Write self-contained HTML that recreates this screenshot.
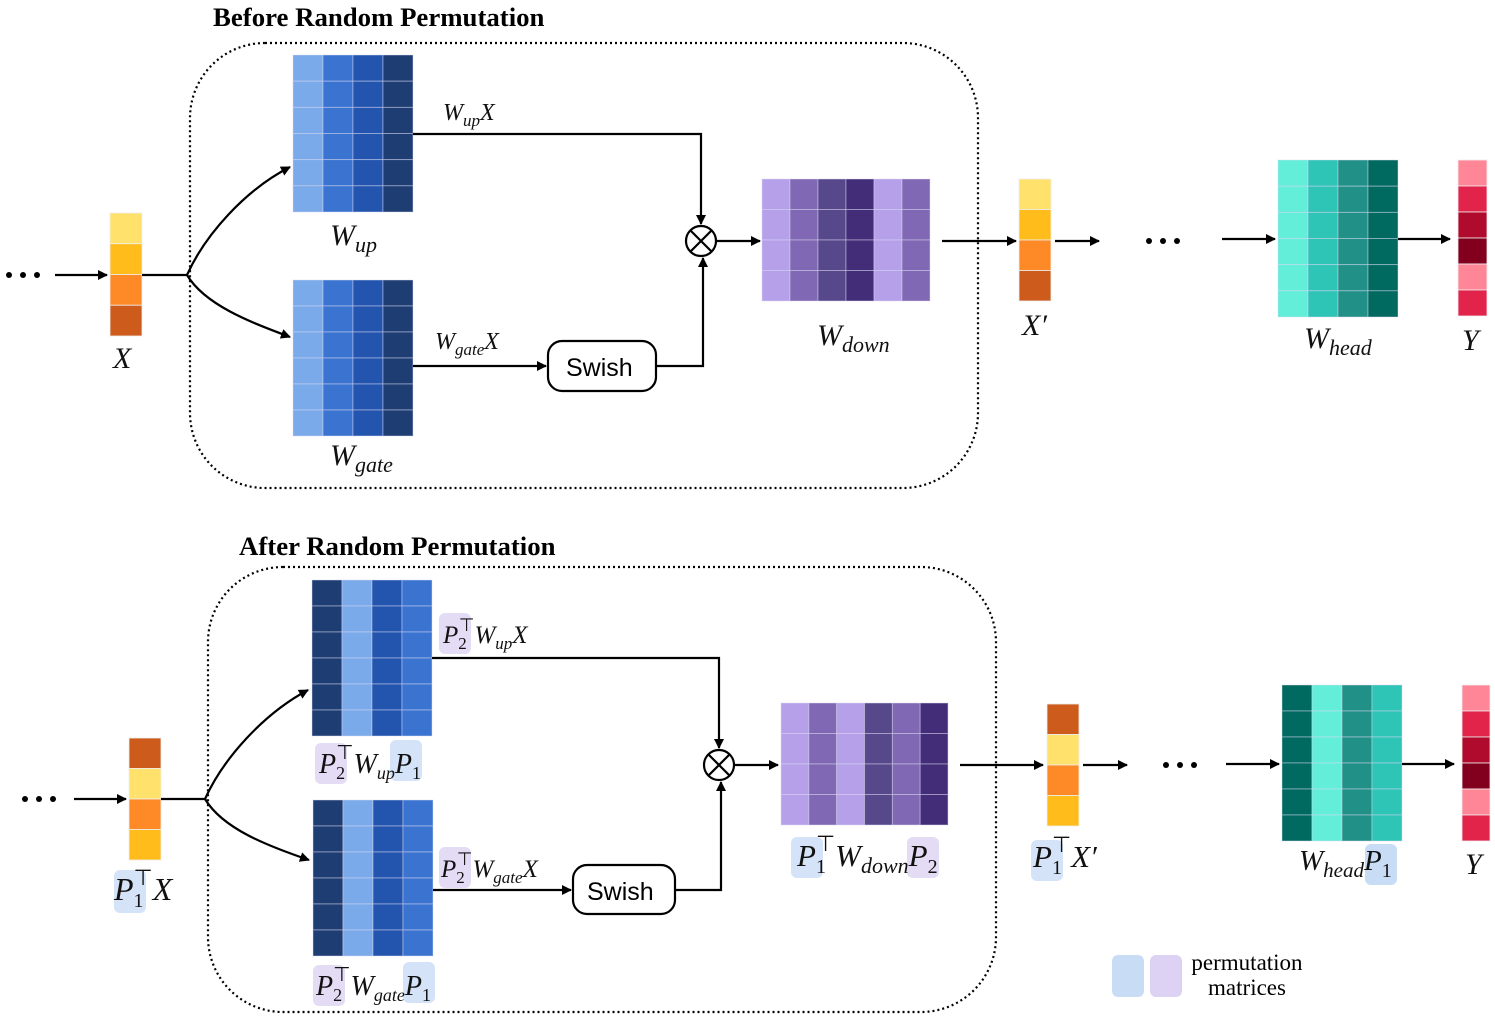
<!DOCTYPE html>
<html><head><meta charset="utf-8"><style>
html,body{margin:0;padding:0;background:#fff}
svg{display:block}
.m{font-family:"Liberation Serif",serif;font-style:italic;fill:#111}
.t{font-family:"Liberation Serif",serif;font-weight:bold;font-size:26.8px;fill:#000}
.s{font-family:"Liberation Sans",sans-serif;font-size:25px;fill:#000}
</style></head><body>
<svg id="g" width="1495" height="1019" viewBox="0 0 1495 1019" xmlns="http://www.w3.org/2000/svg">
<defs><marker id="a" markerWidth="10" markerHeight="10" refX="9" refY="5" orient="auto" markerUnits="userSpaceOnUse"><path d="M0,0 L10,5 L0,10 z" fill="#000"/></marker></defs>
<g id="grids"></g>
<g fill="none" stroke="#000" stroke-width="2.2">
<rect x="190" y="43" width="788" height="445" rx="75" stroke-dasharray="2,3"/>
<rect x="208" y="567" width="788" height="445" rx="75" stroke-dasharray="2,3"/>
<path d="M55,275 H107" marker-end="url(#a)"/>
<path d="M142,275 H187"/>
<path d="M187,275 C205,235 245,190 290,167" marker-end="url(#a)"/>
<path d="M187,275 C205,305 250,322 290,337" marker-end="url(#a)"/>
<path d="M413,134 H701 V224" marker-end="url(#a)"/>
<path d="M413,366 H546" marker-end="url(#a)"/>
<path d="M656,366 H703 V258" marker-end="url(#a)"/>
<circle cx="701" cy="241" r="15"/>
<path d="M690,230 L712,252 M712,230 L690,252"/>
<path d="M716,241 H760" marker-end="url(#a)"/>
<path d="M942,241 H1016" marker-end="url(#a)"/>
<path d="M1055,241 H1099" marker-end="url(#a)"/>
<path d="M1222,239 H1275" marker-end="url(#a)"/>
<path d="M1398,239 H1450" marker-end="url(#a)"/>
<rect x="548" y="341" width="108" height="50" rx="14"/>
<path d="M74,799 H126" marker-end="url(#a)"/>
<path d="M161,799 H205"/>
<path d="M205,799 C223,759 263,714 308,690" marker-end="url(#a)"/>
<path d="M205,799 C223,829 268,846 309,860" marker-end="url(#a)"/>
<path d="M432,658 H719 V748" marker-end="url(#a)"/>
<path d="M433,890 H571" marker-end="url(#a)"/>
<path d="M675,890 H721 V782" marker-end="url(#a)"/>
<circle cx="719" cy="765" r="15"/>
<path d="M708,754 L730,776 M730,754 L708,776"/>
<path d="M734,765 H778" marker-end="url(#a)"/>
<path d="M960,765 H1043" marker-end="url(#a)"/>
<path d="M1083,765 H1127" marker-end="url(#a)"/>
<path d="M1226,764 H1279" marker-end="url(#a)"/>
<path d="M1402,764 H1454" marker-end="url(#a)"/>
<rect x="573" y="865" width="102" height="49" rx="14"/>
</g>
<g fill="#000">
<circle cx="9" cy="275" r="3"/><circle cx="23" cy="275" r="3"/><circle cx="37" cy="275" r="3"/>
<circle cx="1149" cy="241" r="3"/><circle cx="1163" cy="241" r="3"/><circle cx="1177" cy="241" r="3"/>
<circle cx="25" cy="799" r="3"/><circle cx="39" cy="799" r="3"/><circle cx="53" cy="799" r="3"/>
<circle cx="1166" cy="765" r="3"/><circle cx="1180" cy="765" r="3"/><circle cx="1194" cy="765" r="3"/>
</g>
<g>
<rect x="439" y="613" width="32" height="41" rx="6" fill="#e4dcf5"/>
<rect x="315" y="743" width="32" height="41" rx="6" fill="#e4dcf5"/>
<rect x="390" y="740" width="32" height="41" rx="6" fill="#d4e3f7"/>
<rect x="439" y="847" width="32" height="41" rx="6" fill="#e4dcf5"/>
<rect x="313" y="965" width="32" height="41" rx="6" fill="#e4dcf5"/>
<rect x="403" y="962" width="32" height="41" rx="6" fill="#d4e3f7"/>
<rect x="114" y="870" width="32" height="43" rx="6" fill="#d4e3f7"/>
<rect x="791" y="837" width="32" height="41" rx="6" fill="#d4e3f7"/>
<rect x="907" y="837" width="32" height="41" rx="6" fill="#e4dcf5"/>
<rect x="1031" y="840" width="32" height="41" rx="6" fill="#d4e3f7"/>
<rect x="1365" y="844" width="32" height="41" rx="6" fill="#c8dcf6"/>
<rect x="1112" y="955" width="32" height="42" rx="6" fill="#c8dcf6"/>
<rect x="1150" y="955" width="32" height="42" rx="6" fill="#ddd2f4"/>
</g>
<text class="t" x="213" y="26">Before Random Permutation</text>
<text class="t" x="239" y="555">After Random Permutation</text>
<text class="s" x="566" y="376">Swish</text>
<text class="s" x="587" y="900">Swish</text>
<g class="m">
<text x="443" y="120" font-size="24">W<tspan font-size="17" dy="6">up</tspan><tspan dy="-6">X</tspan></text>
<text x="330" y="245" font-size="30">W<tspan font-size="22" dy="7">up</tspan></text>
<text x="330" y="465" font-size="30">W<tspan font-size="22" dy="7">gate</tspan></text>
<text x="435" y="349" font-size="24">W<tspan font-size="17" dy="6">gate</tspan><tspan dy="-6">X</tspan></text>
<text x="817" y="345" font-size="30">W<tspan font-size="22" dy="7">down</tspan></text>
<text x="1022" y="335" font-size="30">X′</text>
<text x="1304" y="348" font-size="30">W<tspan font-size="22" dy="7">head</tspan></text>
<text x="1462" y="350" font-size="30">Y</text>
<text x="113" y="368" font-size="30">X</text>
<text x="443" y="643" font-size="25">P<tspan font-size="17" font-style="normal" dy="6">2</tspan><tspan font-style="normal" font-size="18" dy="-18" dx="-8">⊤</tspan><tspan dy="12">W</tspan><tspan font-size="17" dy="6">up</tspan><tspan dy="-6">X</tspan></text>
<text x="319" y="773" font-size="28">P<tspan font-size="18" font-style="normal" dy="6">2</tspan><tspan font-style="normal" font-size="20" dy="-20" dx="-9">⊤</tspan><tspan dy="14">W</tspan><tspan font-size="18" dy="6">up</tspan><tspan dy="-6">P</tspan><tspan font-size="18" font-style="normal" dy="6">1</tspan></text>
<text x="441" y="877" font-size="25">P<tspan font-size="17" font-style="normal" dy="6">2</tspan><tspan font-style="normal" font-size="18" dy="-18" dx="-8">⊤</tspan><tspan dy="12">W</tspan><tspan font-size="17" dy="6">gate</tspan><tspan dy="-6">X</tspan></text>
<text x="316" y="995" font-size="28">P<tspan font-size="18" font-style="normal" dy="6">2</tspan><tspan font-style="normal" font-size="20" dy="-20" dx="-9">⊤</tspan><tspan dy="14">W</tspan><tspan font-size="18" dy="6">gate</tspan><tspan dy="-6">P</tspan><tspan font-size="18" font-style="normal" dy="6">1</tspan></text>
<text x="114" y="900" font-size="32">P<tspan font-size="20" font-style="normal" dy="7">1</tspan><tspan font-style="normal" font-size="22" dy="-22" dx="-10">⊤</tspan><tspan dy="15">X</tspan></text>
<text x="797" y="866" font-size="31">P<tspan font-size="20" font-style="normal" dy="7">1</tspan><tspan font-style="normal" font-size="22" dy="-22" dx="-10">⊤</tspan><tspan dy="15">W</tspan><tspan font-size="22" dy="7">down</tspan><tspan dy="-7">P</tspan><tspan font-size="20" font-style="normal" dy="7">2</tspan></text>
<text x="1033" y="867" font-size="31">P<tspan font-size="20" font-style="normal" dy="7">1</tspan><tspan font-style="normal" font-size="22" dy="-22" dx="-10">⊤</tspan><tspan dy="15">X′</tspan></text>
<text x="1299" y="870" font-size="29">W<tspan font-size="21" dy="7">head</tspan><tspan dy="-7">P</tspan><tspan font-size="20" font-style="normal" dy="7">1</tspan></text>
<text x="1465" y="874" font-size="30">Y</text>
</g>
<text x="1247" y="970" text-anchor="middle" font-family="Liberation Serif,serif" font-size="23">permutation</text>
<text x="1247" y="995" text-anchor="middle" font-family="Liberation Serif,serif" font-size="23">matrices</text>
</svg>
<script>
var B=['#7aaaea','#3b73d0','#2455ae','#1e3d73'],P=['#b6a0ea','#8068b4','#56488a','#432c78'],T=['#62eed8','#2ec4b6','#219187','#006a60'],O=['#ffe16b','#ffbc1a','#fd8a26','#cd5b1c'],R=['#ff8696','#e2244a','#b00a2c','#82001e'];
var g=document.getElementById('grids'),s='';
function grid(x,y,w,h,cols,rows){var cw=w/cols.length,rh=h/rows;
 for(var c=0;c<cols.length;c++)for(var r=0;r<rows;r++){s+='<rect x="'+(x+c*cw)+'" y="'+(y+r*rh)+'" width="'+cw+'" height="'+rh+'" fill="'+cols[c]+'" stroke="#d8d8f0" stroke-width="0.8" stroke-opacity="0.6"/>';}}
function vec(x,y,w,h,cols){var rh=h/cols.length;for(var r=0;r<cols.length;r++)s+='<rect x="'+x+'" y="'+(y+r*rh)+'" width="'+w+'" height="'+rh+'" fill="'+cols[r]+'" stroke="#eee" stroke-width="0.8"/>';}
grid(293,55,120,157,[B[0],B[1],B[2],B[3]],6);
grid(293,280,120,156,[B[0],B[1],B[2],B[3]],6);
grid(762,179,168,122,[P[0],P[1],P[2],P[3],P[0],P[1]],4);
vec(110,213,32,123,O);
vec(1019,179,32,122,O);
grid(1278,160,120,157,[T[0],T[1],T[2],T[3]],6);
vec(1458,160,29,156,[R[0],R[1],R[2],R[3],R[0],R[1]]);
grid(312,580,120,156,[B[3],B[0],B[2],B[1]],6);
grid(313,800,120,156,[B[3],B[0],B[2],B[1]],6);
grid(781,703,167,122,[P[0],P[1],P[0],P[2],P[1],P[3]],4);
vec(129,738,32,122,[O[3],O[0],O[2],O[1]]);
vec(1047,704,32,122,[O[3],O[0],O[2],O[1]]);
grid(1282,685,120,156,[T[3],T[0],T[2],T[1]],6);
vec(1462,685,28,156,[R[0],R[1],R[2],R[3],R[0],R[1]]);
g.innerHTML=s;
</script>
</body></html>
